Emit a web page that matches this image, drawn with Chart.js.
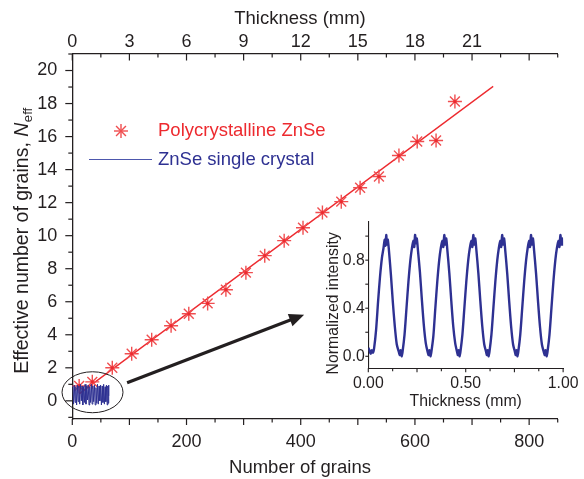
<!DOCTYPE html>
<html>
<head>
<meta charset="utf-8">
<script src="https://cdn.jsdelivr.net/npm/chart.js@4"></script>
<style>
  html, body { margin: 0; padding: 0; background: #fff; }
  #wrap { position: relative; width: 584px; height: 479px; }
  #main { position: absolute; left: 0; top: 0; }
  #inset { position: absolute; left: 300px; top: 205px; }
</style>
</head>
<body>
<div id="wrap">
  <canvas id="main" width="584" height="479"></canvas>
  <canvas id="inset" width="284" height="215"></canvas>
</div>
<script>
// polycrystalline ZnSe: effective number of grains vs number of grains
const grains = [12, 35, 70, 104, 139, 173, 204, 237, 269, 304, 337, 371, 404, 438, 471, 504, 537, 572, 604, 637, 670];
const neff   = [0.9, 1.15, 2.0, 2.85, 3.7, 4.55, 5.27, 5.9, 6.73, 7.76, 8.79, 9.7, 10.48, 11.4, 12.06, 12.9, 13.58, 14.85, 15.7, 15.76, 18.12];

// straight fit through the stars (end points)
const fitGrains = [12, 737];
const fitNeff   = [0.42, 19.04];

// ZnSe single crystal, squeezed into the main plot (0..~2 mm)
const bandGrains = [1, 2.2, 3.5, 4.9, 6.1, 7.6, 8.8, 10.3, 11.5, 13, 14.2, 15.8, 17, 18.4, 19.7, 21.2, 22.4, 23.9, 25.1, 26.6,
                    27.8, 29.3, 30.5, 32, 33.3, 34.7, 36, 37.4, 38.7, 40.1, 41.4, 42.9, 44.1, 45.6, 46.8, 48.3, 49.5, 51, 52.3, 53.7,
                    54.9, 56.2, 57.4, 58.7, 59.8, 61.1, 62.1, 63, 63.6, 64];
const bandNeff = [0.9, -0.2, 0.95, -0.1, 0.85, -0.25, 0.95, -0.05, 0.9, -0.2, 1.0, 0.0, 0.9, -0.25, 0.85, -0.1, 1.0, -0.2, 0.9, 0.05,
                  0.95, -0.25, 0.85, -0.1, 1.0, -0.2, 0.9, -0.05, 0.95, -0.25, 0.8, -0.15, 1.0, -0.2, 0.9, 0.0, 0.95, -0.25, 0.9, -0.1,
                  1.0, -0.2, 0.85, -0.05, 0.95, -0.25, 0.9, -0.15, 0.95, 0.3];

// inset: normalized intensity vs thickness (mm)
const insetThickness = [
  0.000, 0.006, 0.012, 0.018, 0.024, 0.030,
  0.040, 0.050, 0.060, 0.070, 0.078, 0.084, 0.088, 0.092, 0.096, 0.100, 0.106,
  0.116, 0.126, 0.136, 0.146, 0.156, 0.162, 0.166, 0.171, 0.176,
  0.186, 0.196, 0.206, 0.216, 0.224, 0.231, 0.236, 0.240, 0.245, 0.249, 0.255,
  0.265, 0.275, 0.285, 0.295, 0.304, 0.310, 0.314, 0.319, 0.324,
  0.334, 0.344, 0.354, 0.364, 0.372, 0.380, 0.385, 0.390, 0.395, 0.400, 0.406,
  0.416, 0.426, 0.436, 0.446, 0.455, 0.460, 0.464, 0.468, 0.473,
  0.483, 0.493, 0.503, 0.513, 0.521, 0.529, 0.534, 0.539, 0.544, 0.549, 0.555,
  0.565, 0.575, 0.585, 0.595, 0.604, 0.609, 0.613, 0.617, 0.622,
  0.632, 0.642, 0.652, 0.662, 0.670, 0.677, 0.682, 0.687, 0.692, 0.697, 0.703,
  0.713, 0.723, 0.733, 0.743, 0.752, 0.757, 0.761, 0.765, 0.770,
  0.780, 0.790, 0.800, 0.810, 0.818, 0.825, 0.830, 0.835, 0.840, 0.845, 0.851,
  0.861, 0.871, 0.881, 0.891, 0.900, 0.906, 0.910, 0.915, 0.920,
  0.930, 0.940, 0.950, 0.960, 0.968, 0.976, 0.981, 0.986, 0.991, 0.996, 1.000
];
const insetIntensity = [
  0.07, 0.05, 0.02, 0.05, 0.03, 0.07,
  0.22, 0.45, 0.66, 0.82, 0.90, 0.97, 0.92, 1.01, 0.93, 0.97, 0.88,
  0.68, 0.45, 0.25, 0.10, 0.04, 0.01, 0.05, 0.00, 0.04,
  0.18, 0.40, 0.62, 0.80, 0.90, 0.96, 0.91, 1.01, 0.94, 0.98, 0.88,
  0.70, 0.47, 0.26, 0.11, 0.04, 0.01, 0.05, 0.00, 0.04,
  0.17, 0.40, 0.62, 0.80, 0.90, 0.96, 0.91, 1.01, 0.93, 0.98, 0.88,
  0.69, 0.46, 0.25, 0.11, 0.04, 0.01, 0.05, 0.00, 0.04,
  0.18, 0.40, 0.62, 0.80, 0.90, 0.96, 0.91, 1.01, 0.93, 0.98, 0.88,
  0.69, 0.46, 0.25, 0.10, 0.04, 0.01, 0.05, 0.00, 0.04,
  0.18, 0.40, 0.62, 0.80, 0.90, 0.96, 0.91, 1.01, 0.93, 0.98, 0.88,
  0.69, 0.46, 0.25, 0.10, 0.04, 0.01, 0.05, 0.00, 0.04,
  0.18, 0.40, 0.62, 0.80, 0.90, 0.96, 0.91, 1.01, 0.93, 0.98, 0.88,
  0.69, 0.46, 0.25, 0.10, 0.04, 0.01, 0.05, 0.00, 0.04,
  0.18, 0.40, 0.62, 0.80, 0.90, 0.96, 0.91, 1.01, 0.93, 0.98, 0.92
];

// tick labels
const grainLabels = [0, 200, 400, 600, 800];
const thicknessLabels = [0, 3, 6, 9, 12, 15, 18, 21];
const neffLabels = [0, 2, 4, 6, 8, 10, 12, 14, 16, 18, 20];
const insetXLabels = [0, 0.5, 1];
const insetYLabels = [0, 0.4, 0.8];

// annotations (data coords)
const ellipseAt = [35.4, 0.52], ellipseHalf = [53.4, 1.24];
const arrowFrom = [96, 1.09], arrowTo = [406, 5.21];

const INK = '#231f20';
const RED = '#ed2a2f';
const STAR = '#f04e50';
const BLUE = '#2e3192';
const FONT = "'Liberation Sans', Arial, Helvetica, sans-serif";

Chart.defaults.font.family = FONT;
Chart.defaults.color = INK;

function onStep(v, step) {
  const k = v / step;
  return Math.abs(k - Math.round(k)) < 1e-6;
}
function hasLabel(list, v) {
  return list.some(l => Math.abs(l - v) < 1e-6);
}
function pts(xs, ys) {
  return xs.map((x, i) => ({x: x, y: ys[i]}));
}

// tick marks drawn by hand so major/minor and inward ticks look right
const tickMarks = {
  id: 'tickMarks',
  afterDraw(chart, args, opts) {
    const ctx = chart.ctx, a = chart.chartArea;
    ctx.save();
    ctx.strokeStyle = INK;
    ctx.lineWidth = opts.width || 1.2;
    (opts.axes || []).forEach(ax => {
      const sc = chart.scales[ax.id];
      sc.ticks.forEach(t => {
        const v = t.value;
        if (!onStep(v, ax.step)) return;
        const len = onStep(v, ax.majorStep) ? ax.major : ax.minor;
        const p = sc.getPixelForValue(v);
        ctx.beginPath();
        if (ax.side === 'left') { ctx.moveTo(a.left, p); ctx.lineTo(a.left - len, p); }
        else if (ax.side === 'bottom') { ctx.moveTo(p, a.bottom); ctx.lineTo(p, a.bottom + len); }
        else if (ax.side === 'top') { ctx.moveTo(p, a.top); ctx.lineTo(p, a.top + len); }
        ctx.stroke();
      });
    });
    ctx.restore();
  }
};

// axis titles placed by hand (rotated y title with italic + subscript part)
const axisTitles = {
  id: 'axisTitles',
  afterDraw(chart, args, o) {
    const ctx = chart.ctx;
    ctx.save();
    ctx.fillStyle = INK;
    (o.flat || []).forEach(t => {
      ctx.font = t.size + 'px ' + FONT;
      ctx.textAlign = 'center';
      ctx.textBaseline = 'middle';
      ctx.fillText(t.text, t.x, t.y);
    });
    const r = o.rotated;
    if (r) {
      ctx.translate(r.x, r.y);
      ctx.rotate(-Math.PI / 2);
      ctx.textAlign = 'left';
      ctx.textBaseline = 'alphabetic';
      const f1 = r.size + 'px ' + FONT;
      const f2 = 'italic ' + r.size + 'px ' + FONT;
      const f3 = (r.size * 0.68) + 'px ' + FONT;
      ctx.font = f1; const w1 = ctx.measureText(r.text).width;
      ctx.font = f2; const w2 = r.italic ? ctx.measureText(r.italic).width : 0;
      ctx.font = f3; const w3 = r.sub ? ctx.measureText(r.sub).width : 0;
      let x = -(w1 + w2 + w3) / 2;
      const base = r.size * 0.34;
      ctx.font = f1; ctx.fillText(r.text, x, base); x += w1;
      if (r.italic) { ctx.font = f2; ctx.fillText(r.italic, x, base); x += w2 + 0.5; }
      if (r.sub) { ctx.font = f3; ctx.fillText(r.sub, x, base + r.size * 0.22); }
    }
    ctx.restore();
  }
};

function drawStar(ctx, x, y, r) {
  for (let k = 0; k < 4; k++) {
    const ang = k * Math.PI / 4;
    ctx.beginPath();
    ctx.moveTo(x - Math.cos(ang) * r, y - Math.sin(ang) * r);
    ctx.lineTo(x + Math.cos(ang) * r, y + Math.sin(ang) * r);
    ctx.stroke();
  }
}

// ellipse, arrow and legend of the main plot
const mainDecor = {
  id: 'mainDecor',
  afterDatasetsDraw(chart) {
    const ctx = chart.ctx, xs = chart.scales.x, ys = chart.scales.y;
    ctx.save();
    // ellipse round the single-crystal trace
    const cx = xs.getPixelForValue(ellipseAt[0]), cy = ys.getPixelForValue(ellipseAt[1]);
    const rx = xs.getPixelForValue(ellipseAt[0] + ellipseHalf[0]) - cx;
    const ry = cy - ys.getPixelForValue(ellipseAt[1] + ellipseHalf[1]);
    ctx.strokeStyle = INK;
    ctx.lineWidth = 1;
    ctx.beginPath();
    ctx.ellipse(cx, cy, rx, ry, 0, 0, Math.PI * 2);
    ctx.stroke();
    // arrow to the inset
    const x0 = xs.getPixelForValue(arrowFrom[0]), y0 = ys.getPixelForValue(arrowFrom[1]);
    const x1 = xs.getPixelForValue(arrowTo[0]), y1 = ys.getPixelForValue(arrowTo[1]);
    const ang = Math.atan2(y1 - y0, x1 - x0);
    const head = 15, half = 6.5;
    const bx = x1 - Math.cos(ang) * head, by = y1 - Math.sin(ang) * head;
    ctx.lineWidth = 3.2;
    ctx.beginPath();
    ctx.moveTo(x0, y0);
    ctx.lineTo(bx + Math.cos(ang) * 3, by + Math.sin(ang) * 3);
    ctx.stroke();
    ctx.fillStyle = INK;
    ctx.beginPath();
    ctx.moveTo(x1, y1);
    ctx.lineTo(bx - Math.sin(ang) * half, by + Math.cos(ang) * half);
    ctx.lineTo(bx + Math.sin(ang) * half, by - Math.cos(ang) * half);
    ctx.closePath();
    ctx.fill();
    ctx.restore();
  },
  afterDraw(chart) {
    const ctx = chart.ctx;
    ctx.save();
    // legend
    ctx.strokeStyle = STAR;
    ctx.lineWidth = 1.4;
    drawStar(ctx, 121, 131, 7);
    ctx.strokeStyle = '#4d57ad';
    ctx.lineWidth = 1;
    ctx.beginPath();
    ctx.moveTo(89, 159.5);
    ctx.lineTo(152, 159.5);
    ctx.stroke();
    ctx.font = '18.5px ' + FONT;
    ctx.textBaseline = 'middle';
    ctx.fillStyle = RED;
    ctx.fillText('Polycrystalline ZnSe', 158, 131);
    ctx.fillStyle = BLUE;
    ctx.fillText('ZnSe single crystal', 158, 160);
    ctx.restore();
  }
};

function axisBase(extra) {
  return Object.assign({
    type: 'linear',
    border: {display: true, color: INK, width: 1.3},
    grid: {display: false, drawTicks: false}
  }, extra);
}

new Chart(document.getElementById('main'), {
  type: 'scatter',
  data: {
    datasets: [
      {
        label: 'ZnSe single crystal',
        data: pts(bandGrains, bandNeff),
        showLine: true,
        borderColor: BLUE,
        borderWidth: 1,
        pointRadius: 0,
        order: 0
      },
      {
        label: 'centres',
        data: pts(grains, neff),
        pointStyle: 'circle',
        pointRadius: 1.6,
        backgroundColor: RED,
        borderWidth: 0,
        order: 1
      },
      {
        label: 'Polycrystalline ZnSe',
        data: pts(grains, neff),
        pointStyle: 'star',
        pointRadius: 7,
        borderColor: STAR,
        backgroundColor: STAR,
        borderWidth: 1.4,
        order: 2
      },
      {
        label: 'fit',
        data: pts(fitGrains, fitNeff),
        showLine: true,
        borderColor: RED,
        borderWidth: 1.3,
        pointRadius: 0,
        order: 3
      }
    ]
  },
  options: {
    responsive: false,
    animation: false,
    events: [],
    layout: {padding: {left: 0, right: 26.3, top: 0, bottom: 0}},
    plugins: {
      legend: {display: false},
      tooltip: {enabled: false},
      tickMarks: {
        width: 1.2,
        axes: [
          {id: 'x', side: 'bottom', step: 50, majorStep: 100, major: 6, minor: 3.5},
          {id: 'x2', side: 'top', step: 1.5, majorStep: 3, major: 6.5, minor: 3.5},
          {id: 'y', side: 'left', step: 1, majorStep: 2, major: 7, minor: 4}
        ]
      },
      axisTitles: {
        flat: [
          {text: 'Number of grains', x: 300, y: 468, size: 18.5},
          {text: 'Thickness (mm)', x: 300, y: 19, size: 18.5}
        ],
        rotated: {text: 'Effective number of grains, ', italic: 'N', sub: 'eff', x: 21, y: 241, size: 19.5}
      }
    },
    scales: {
      x: axisBase({
        position: 'bottom',
        min: 0, max: 850,
        afterFit: s => { s.height = 60; },
        ticks: {stepSize: 50, includeBounds: false, autoSkip: false, maxRotation: 0, padding: 12, font: {size: 18},
                callback: v => hasLabel(grainLabels, v) ? String(v) : ''}
      }),
      x2: axisBase({
        position: 'top',
        min: 0, max: 25.5,
        afterFit: s => { s.height = 54; },
        ticks: {stepSize: 1.5, includeBounds: false, autoSkip: false, maxRotation: 0, padding: 1, font: {size: 18},
                callback: v => hasLabel(thicknessLabels, v) ? String(Math.round(v)) : ''}
      }),
      y: axisBase({
        position: 'left',
        min: -1.1, max: 21,
        afterFit: s => { s.width = 72.3; },
        ticks: {stepSize: 1, includeBounds: false, autoSkip: false, padding: 15, font: {size: 18},
                callback: v => hasLabel(neffLabels, v) ? String(Math.round(v)) : ''}
      })
    }
  },
  plugins: [tickMarks, mainDecor, axisTitles]
});

new Chart(document.getElementById('inset'), {
  type: 'scatter',
  data: {
    datasets: [{
      label: 'ZnSe single crystal',
      data: pts(insetThickness, insetIntensity),
      showLine: true,
      tension: 0.25,
      borderColor: BLUE,
      borderWidth: 2.4,
      pointRadius: 0
    }]
  },
  options: {
    responsive: false,
    animation: false,
    events: [],
    layout: {padding: {left: 0, right: 19, top: 16.7, bottom: 0}},
    plugins: {
      legend: {display: false},
      tooltip: {enabled: false},
      tickMarks: {
        width: 1.1,
        axes: [
          {id: 'x', side: 'bottom', step: 0.125, majorStep: 0.25, major: 4, minor: 3},
          {id: 'y', side: 'left', step: 0.2, majorStep: 0.2, major: 3, minor: 3}
        ]
      },
      axisTitles: {
        rotated: {text: 'Normalized intensity', x: 32.7, y: 98.3, size: 15.8}
      }
    },
    scales: {
      x: axisBase({
        position: 'bottom',
        min: 0, max: 1,
        border: {display: true, color: INK, width: 1.1},
        afterFit: s => { s.height = 51.7; },
        ticks: {stepSize: 0.125, includeBounds: false, autoSkip: false, maxRotation: 0, padding: 5.5, font: {size: 15.8},
                callback: v => hasLabel(insetXLabels, v) ? v.toFixed(2) : ''},
        title: {display: true, text: 'Thickness (mm)', font: {size: 15.8}, padding: {top: 0, bottom: 9}}
      }),
      y: axisBase({
        position: 'left',
        min: -0.1, max: 1.12,
        border: {display: true, color: INK, width: 1.1},
        afterFit: s => { s.width = 68.3; },
        ticks: {stepSize: 0.2, includeBounds: false, autoSkip: false, padding: 3.5, font: {size: 15.8},
                callback: v => hasLabel(insetYLabels, v) ? v.toFixed(1) : ''}
      })
    }
  },
  plugins: [tickMarks, axisTitles]
});
</script>
</body>
</html>
